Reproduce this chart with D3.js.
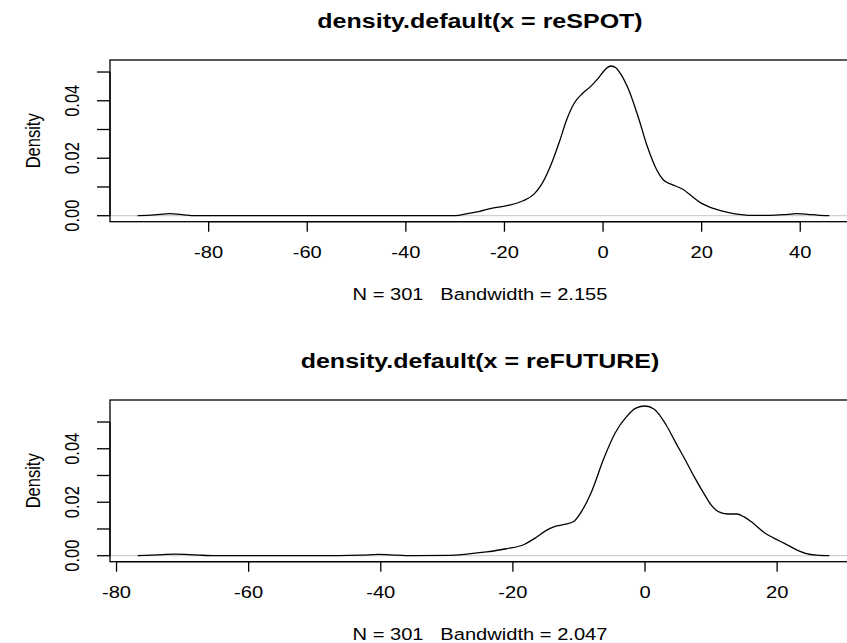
<!DOCTYPE html>
<html>
<head>
<meta charset="utf-8">
<script src="https://cdn.jsdelivr.net/npm/d3@7"></script>
<style>
  body { margin: 0; background: #fff; }
  svg { display: block; font-family: "Liberation Sans", Arial, sans-serif; }
</style>
</head>
<body>
<div id="chart"></div>
<script>
// density of reSPOT
const spotX = [-94.4, -91, -87.9, -85, -82.9, -60, -40, -30, -27.5, -25, -22.9, -19.5, -16.2, -14, -12.5, -10.5, -8.8, -7.4, -5.8, -4.2, -2.5, -1.0, 0.5, 1.6, 2.6, 3.5, 5.2, 7.1, 9.0, 10.9, 12.2, 14, 16.2, 18, 20, 21.5, 23, 25.3, 28, 31, 35, 37.5, 39.2, 41.5, 43.5, 45.9];
const spotDensity = [0, 0.0003, 0.0007, 0.0003, 0, 0, 0, 0, 0.0007, 0.0015, 0.0025, 0.0035, 0.0052, 0.0075, 0.0108, 0.018, 0.026, 0.0333, 0.0393, 0.0425, 0.045, 0.0478, 0.051, 0.0521, 0.0515, 0.0495, 0.0438, 0.0345, 0.024, 0.0159, 0.0125, 0.0108, 0.0092, 0.0068, 0.0043, 0.0031, 0.0022, 0.0012, 0.0004, 0.0001, 0.0002, 0.0005, 0.0007, 0.0005, 0.0002, 0];
const spotTicks = [-80, -60, -40, -20, 0, 20, 40];

// density of reFUTURE
const futureX = [-76.8, -74, -71.1, -68, -65, -50, -43, -40.4, -37.5, -35, -30, -27, -24, -21, -18.3, -16.5, -15, -13.9, -12.2, -10.8, -9.5, -8, -6.3, -4.5, -2.8, -1.4, 0, 1.4, 3.2, 4.6, 6.1, 7.5, 8.9, 10, 11.1, 12.5, 13.9, 15, 16.1, 18.2, 19.5, 21.1, 22.8, 24.3, 26, 27.9];
const futureDensity = [0, 0.0003, 0.0006, 0.0003, 0, 0, 0.0002, 0.0005, 0.0002, 0, 0.0001, 0.0006, 0.0014, 0.0026, 0.0042, 0.0068, 0.0094, 0.0107, 0.0117, 0.0128, 0.017, 0.0245, 0.036, 0.046, 0.052, 0.0552, 0.056, 0.0548, 0.0489, 0.0425, 0.0358, 0.0293, 0.0233, 0.019, 0.0165, 0.0156, 0.0156, 0.0145, 0.0127, 0.0084, 0.0066, 0.0046, 0.0024, 0.0009, 0.0002, 0];
const futureTicks = [-80, -60, -40, -20, 0, 20];

const densityTicks = [0, 0.01, 0.02, 0.03, 0.04, 0.05];
const densityLabels = ["0.00", "", "0.02", "", "0.04", ""];

const titles = ["density.default(x = reSPOT)", "density.default(x = reFUTURE)"];
const notes = ["N = 301   Bandwidth = 2.155", "N = 301   Bandwidth = 2.047"];

const W = 847, H = 643;
const SX = 1.22; // picture is stretched sideways

const svg = d3.select("#chart").append("svg")
    .attr("width", W)
    .attr("height", H);
svg.append("rect").attr("width", W).attr("height", H).attr("fill", "#fff");

function addText(g, x, y, str, size, opts = {}) {
    return g.append("text")
        .attr("transform", `translate(${x},${y}) scale(${SX},1)` + (opts.rotate ? " rotate(-90)" : ""))
        .attr("text-anchor", "middle")
        .attr("dy", "0.36em")
        .style("font-size", size + "px")
        .style("font-weight", opts.bold ? "bold" : "normal")
        .style("white-space", "pre")
        .text(str);
}

class DensityPanel {
    constructor(xs, ys, ticks, title, note, top) {
        this.data = xs.map((x, i) => ({ x: x, y: ys[i] }));
        this.ticks = ticks;
        this.title = title;
        this.note = note;
        this.margin = { left: 110, top: top };
        this.width = 747;
        this.height = 161.7;
        this.g = svg.append("g").attr("transform", `translate(${this.margin.left},${this.margin.top})`);
        this.initScales();
        this.draw();
    }

    initScales() {
        // R style: range of data extended by 4% on each side
        const xr = d3.extent(this.data, d => d.x);
        const xp = (xr[1] - xr[0]) * 0.04;
        this.xScale = d3.scaleLinear().domain([xr[0] - xp, xr[1] + xp]).range([0, this.width]);
        const ymax = d3.max(this.data, d => d.y);
        this.yScale = d3.scaleLinear().domain([-0.04 * ymax, 1.04 * ymax]).range([this.height, 0]);
    }

    draw() {
        const g = this.g;
        const x = this.xScale, y = this.yScale;

        // zero line
        g.append("line")
            .attr("x1", 0).attr("x2", this.width)
            .attr("y1", y(0)).attr("y2", y(0))
            .attr("stroke", "#d0d0d0").attr("stroke-width", 1.3);

        // density curve
        const line = d3.line().x(d => x(d.x)).y(d => y(d.y)).curve(d3.curveMonotoneX);
        g.append("path")
            .datum(this.data)
            .attr("d", line)
            .attr("fill", "none")
            .attr("stroke", "#000")
            .attr("stroke-width", 1.3);

        // box
        g.append("rect")
            .attr("width", this.width).attr("height", this.height)
            .attr("fill", "none").attr("stroke", "#000").attr("stroke-width", 1.3);

        // x axis
        const xAxis = g.append("g").attr("transform", `translate(0,${this.height})`);
        xAxis.append("line")
            .attr("x1", x(this.ticks[0])).attr("x2", x(this.ticks[this.ticks.length - 1]))
            .attr("stroke", "#000").attr("stroke-width", 1.3);
        this.ticks.forEach(t => {
            xAxis.append("line")
                .attr("x1", x(t)).attr("x2", x(t)).attr("y1", 0).attr("y2", 10)
                .attr("stroke", "#000").attr("stroke-width", 1.3);
            addText(xAxis, x(t), 30, String(t), 16.5);
        });

        // y axis
        const yAxis = g.append("g");
        yAxis.append("line")
            .attr("y1", y(densityTicks[0])).attr("y2", y(densityTicks[densityTicks.length - 1]))
            .attr("stroke", "#000").attr("stroke-width", 1.3);
        densityTicks.forEach((t, i) => {
            yAxis.append("line")
                .attr("x1", -13).attr("x2", 0).attr("y1", y(t)).attr("y2", y(t))
                .attr("stroke", "#000").attr("stroke-width", 1.3);
            if (densityLabels[i]) addText(yAxis, -38, y(t), densityLabels[i], 16.5, { rotate: true });
        });

        // titles and labels
        const cx = 370;
        addText(g, cx, -39, this.title, 20.5, { bold: true });
        addText(g, cx, this.height + 72, this.note, 16.5);
        addText(g, -77, this.height / 2, "Density", 16.5, { rotate: true });
    }
}

new DensityPanel(spotX, spotDensity, spotTicks, titles[0], notes[0], 60);
new DensityPanel(futureX, futureDensity, futureTicks, titles[1], notes[1], 400);
</script>
</body>
</html>
